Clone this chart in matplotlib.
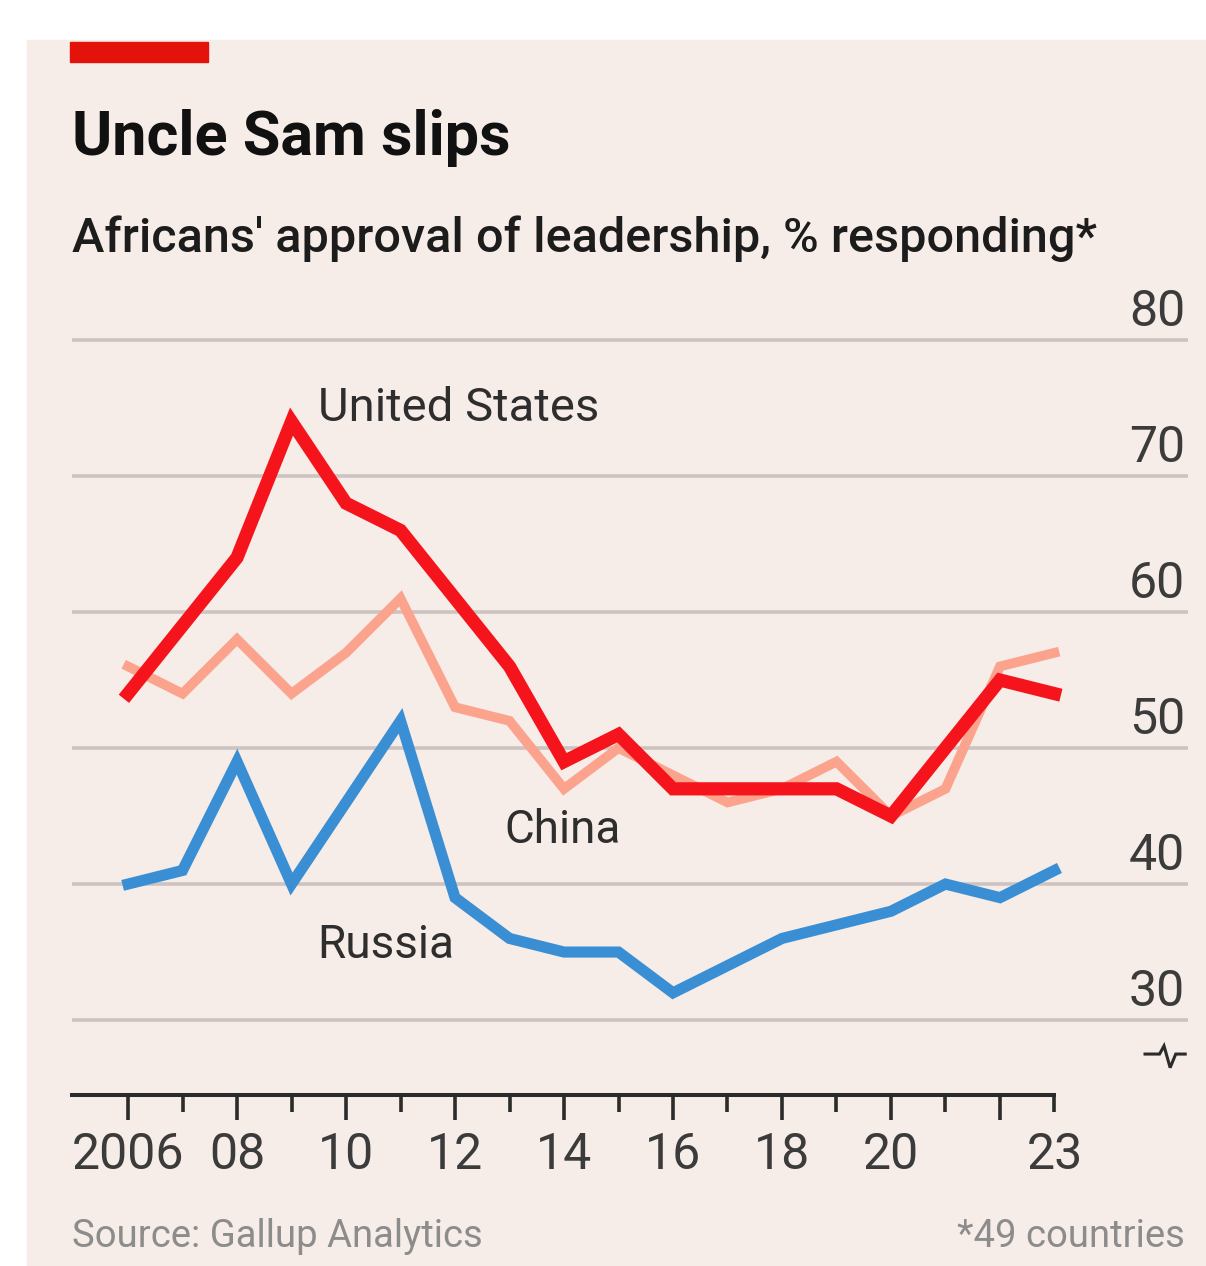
#!/usr/bin/env python3
"""Line chart: African approval of US, Chinese and Russian leadership, 2006-23."""

import matplotlib

matplotlib.use("Agg")
import matplotlib.pyplot as plt
from matplotlib.patches import Rectangle
from matplotlib.transforms import blended_transform_factory

plt.rcParams["font.family"] = ["Roboto", "DejaVu Sans"]

# Approval of leadership, % responding (49 African countries)
years = list(range(2006, 2024))
us = [54, 59, 64, 74, 68, 66, 61, 56, 49, 51, 47, 47, 47, 47, 45, 50, 55, 54]
china = [56, 54, 58, 54, 57, 61, 53, 52, 47, 50, 48, 46, 47, 49, 45, 47, 56, 57]
russia = [40, 41, 49, 40, 46, 52, 39, 36, 35, 35, 32, 34, 36, 37, 38, 40, 39, 41]

y_ticks = [30, 40, 50, 60, 70, 80]
major_years = list(range(2006, 2023, 2))
major_labels = ["2006", "08", "10", "12", "14", "16", "18", "20", ""]
minor_years = list(range(2007, 2024, 2))
minor_labels = [""] * 8 + ["23"]

BG = "#f6ece8"
RED = "#f5141b"
SALMON = "#fba38c"
BLUE = "#3a8fd4"
GRID = "#cdc4c2"
INK = "#3b3b3b"

W, H = 1206, 1266
fig = plt.figure(figsize=(W / 100, H / 100), dpi=100)
fig.patch.set_facecolor("white")
fig.patches.append(Rectangle((27 / W, 0), 1 - 27 / W, 1 - 40 / H,
                             transform=fig.transFigure, color=BG, zorder=-10))
fig.patches.append(Rectangle((70 / W, 1 - 62 / H), 138 / W, 20 / H,
                             transform=fig.transFigure, color="#e3120b", zorder=5))

fig.text(72 / W, 1 - 155 / H, "Uncle Sam slips", fontsize=44, fontweight="bold",
         color="#111111", ha="left", va="baseline")
fig.text(72 / W, 1 - 252 / H, "Africans' approval of leadership, % responding*",
         fontsize=35, fontweight="medium", color="#1c1c1c", ha="left", va="baseline")

ax = fig.add_axes([72 / W, 1 - 1095 / H, (1188 - 72) / W, (1095 - 300) / H])
ax.set_facecolor("none")
ax.set_xlim(2004.972, 2025.45)
ax.set_ylim(24.49, 82.94)

for v in y_ticks:
    ax.axhline(v, color=GRID, lw=2.6, zorder=1)
    ax.annotate(str(v), xy=(1.0, v), xycoords=("axes fraction", "data"),
                xytext=(-2, 3), textcoords="offset points",
                ha="right", va="bottom", fontsize=36, color=INK)

ax.plot(years, russia, color=BLUE, lw=8, solid_joinstyle="miter", zorder=3)
ax.plot(years, china, color=SALMON, lw=7, solid_joinstyle="miter", zorder=4)
ax.plot(years, us, color=RED, lw=9.5, solid_joinstyle="miter", zorder=5)

ax.text(2009.48, 75.0, "United States", fontsize=34, color="#2e2e2e",
        ha="left", va="center")
ax.text(2012.91, 44.0, "China", fontsize=33, color="#2e2e2e",
        ha="left", va="center")
ax.text(2009.48, 35.5, "Russia", fontsize=33, color="#2e2e2e",
        ha="left", va="center")

# x axis: only the bottom spine, stopping at the last year
for side in ("top", "right", "left"):
    ax.spines[side].set_visible(False)
ax.spines["bottom"].set_bounds(2004.972, 2023)
ax.spines["bottom"].set_linewidth(2.9)
ax.spines["bottom"].set_color("#2b2b2b")
ax.spines["bottom"].set_capstyle("projecting")

ax.set_xticks(major_years)
ax.set_xticklabels(major_labels)
ax.set_xticks(minor_years, minor=True)
ax.set_xticklabels(minor_labels, minor=True)
ax.tick_params(axis="x", which="major", length=18, width=2.6, color="#2b2b2b",
               pad=8, labelsize=36, labelcolor=INK)
ax.tick_params(axis="x", which="minor", length=12, width=2.6, color="#2b2b2b",
               pad=14, labelsize=36, labelcolor=INK)
ax.set_yticks([])

# axis-break squiggle between the 30 line and the x axis
brk = blended_transform_factory(ax.transAxes, ax.transData)
bx = [0.9615, 0.9745, 0.9785, 0.9840, 0.9890, 0.9975]
by = [27.5, 27.5, 28.1, 26.5, 27.5, 27.5]
ax.plot(bx, by, transform=brk, color="#2b2b2b", lw=2.2, clip_on=False,
        solid_joinstyle="miter")

fig.text(72 / W, 1 - 1247 / H, "Source: Gallup Analytics", fontsize=27.5,
         color="#8c8c8c", ha="left", va="baseline")
fig.text(1185 / W, 1 - 1247 / H, "*49 countries", fontsize=27.5,
         color="#8c8c8c", ha="right", va="baseline")

fig.savefig("out.png", dpi=100, facecolor=fig.get_facecolor())
